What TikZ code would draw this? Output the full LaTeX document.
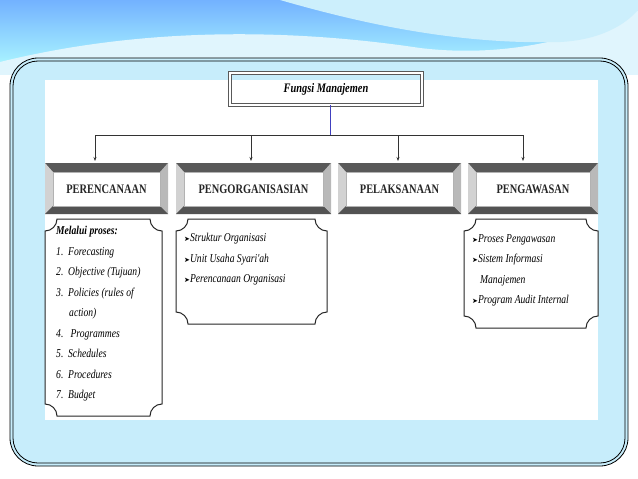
\documentclass[tikz,border=0pt]{standalone}
\usepackage{fontspec}
\setmainfont{Liberation Serif}
\newfontfamily\cond[FakeStretch=0.8]{Liberation Serif}
\newfontfamily\arrf{DejaVu Sans}
\usetikzlibrary{arrows.meta}
\newcommand{\hdrbox}[6]{%
 \fill[gray!75!black] (#2,#3) rectangle (#4,#5);
 \fill[gray!70!black] (#2,#3) -- (#4,#3) -- (#4-8,#3+9) -- (#2+8,#3+9) -- cycle;
 \fill[gray!35] (#2,#3) -- (#2+8,#3+9) -- (#2+8,#5-8) -- (#2,#5) -- cycle;
 \fill[gray!55] (#4,#3) -- (#4-8,#3+9) -- (#4-8,#5-8) -- (#4,#5) -- cycle;
 \fill[gray!65!black] (#2,#5) -- (#2+8,#5-8) -- (#4-8,#5-8) -- (#4,#5) -- cycle;
 \node[hdr, minimum width={(#4-#2-16)*1pt}, minimum height={(#5-#3-17)*1pt}] (#1) at ({(#2+#4)/2},{#3+9+(#5-#3-17)/2}) {#6};}
\newcommand{\plaque}[5]{%
 \draw[plq] ({#1+#5},#2) -- ({#3-#5},#2) .. controls ({#3-#5},{#2+0.55*#5}) and ({#3-0.55*#5},{#2+#5}) .. (#3,{#2+#5})
 -- (#3,{#4-#5}) .. controls ({#3-0.55*#5},{#4-#5}) and ({#3-#5},{#4-0.55*#5}) .. ({#3-#5},#4)
 -- ({#1+#5},#4) .. controls ({#1+#5},{#4-0.55*#5}) and ({#1+0.55*#5},{#4-#5}) .. (#1,{#4-#5})
 -- (#1,{#2+#5}) .. controls ({#1+0.55*#5},{#2+#5}) and ({#1+#5},{#2+0.55*#5}) .. cycle;}
\newcommand{\bul}{{\upshape\arrf\fontsize{7}{8}\selectfont ➤}}
\tikzset{
 hdr/.style={fill=white, draw=gray!60, inner sep=0pt, font=\cond\bfseries\fontsize{13}{14}\selectfont, text=black!85},
 plq/.style={draw=black!85, line width=1pt, fill=white},
 itm/.style={anchor=north west, align=left, font=\cond\itshape\fontsize{12}{20.5}\selectfont, inner sep=0pt},
 conn/.style={draw=black!80, line width=0.7pt},
 arr/.style={conn, -{Stealth[length=4pt,width=3pt]}}
}
\begin{document}
\begin{tikzpicture}[x=1pt,y=-1pt]
\useasboundingbox (0,0) rectangle (638,479);
\fill[white] (0,0) rectangle (638,479);
% top swoosh
\shade[top color=cyan!45!blue!55, bottom color=cyan!30] (0,0) rectangle (638,75);
\fill[cyan!12] (0,75) -- (0,62) .. controls (150,25) and (300,30) .. (420,48) .. controls (520,60) and (600,30) .. (638,10) -- (638,75) -- cycle;
\fill[white!80!cyan] (280,0) .. controls (350,20) and (450,45) .. (560,42) .. controls (600,40) and (625,25) .. (638,10) -- (638,0) -- cycle;
\fill[white] (0,75) rectangle (638,479);
% frame
\fill[cyan!22!white, rounded corners=28pt] (10,58) rectangle (628,466);
\draw[black, line width=0.8pt, rounded corners=28pt] (10,58) rectangle (628,466);
\draw[black, line width=0.8pt, rounded corners=25pt] (13,61) rectangle (625,463);
\fill[white] (45,80) rectangle (598,420);
% title
\node[draw=gray!70!black, double=white, double distance=1.5pt, line width=0.8pt, minimum width=192pt, minimum height=32pt, font=\cond\itshape\bfseries\fontsize{13}{14}\selectfont] (title) at (326,89) {Fungsi Manajemen};
% headers
\hdrbox{h1}{45}{163}{168}{214}{PERENCANAAN}
\hdrbox{h2}{176}{163}{331}{214}{PENGORGANISASIAN}
\hdrbox{h3}{338}{163}{461}{214}{PELAKSANAAN}
\hdrbox{h4}{468}{163}{598}{214}{PENGAWASAN}
% connectors
\coordinate (j) at (330,135);
\coordinate (b1) at (95,135);
\coordinate (b2) at (251,135);
\coordinate (b3) at (398,135);
\coordinate (b4) at (523,135);
\draw[conn, draw=blue!50!gray] (330,105) -- (j);
\draw[conn] (b1) -- (b4);
\draw[arr] (b1) -- (95,161);
\draw[arr] (b2) -- (251,161);
\draw[arr] (b3) -- (398,161);
\draw[arr] (b4) -- (523,161);
% content boxes
\plaque{45}{219}{162}{416}{12}
\plaque{176}{219}{327}{324}{12}
\plaque{464}{219}{598}{328}{12}
\node[itm] (t1) at (56,226) {\textbf{Melalui proses:}\\
1.\ \ Forecasting\\
2.\ \ Objective (Tujuan)\\
3.\ \ Policies (rules of\\
\hspace{13pt}action)\\
4.\ \ \ Programmes\\
5.\ \ Schedules\\
6.\ \ Procedures\\
7.\ \ Budget};
\node[itm] (t2) at (184,233) {\bul Struktur Organisasi\\
\bul Unit Usaha Syari'ah\\
\bul Perencanaan Organisasi};
\node[itm] (t4) at (472,234) {\bul Proses Pengawasan\\
\bul Sistem Informasi\\
\hspace{8pt}Manajemen\\
\bul Program Audit Internal};
\end{tikzpicture}
\end{document}
